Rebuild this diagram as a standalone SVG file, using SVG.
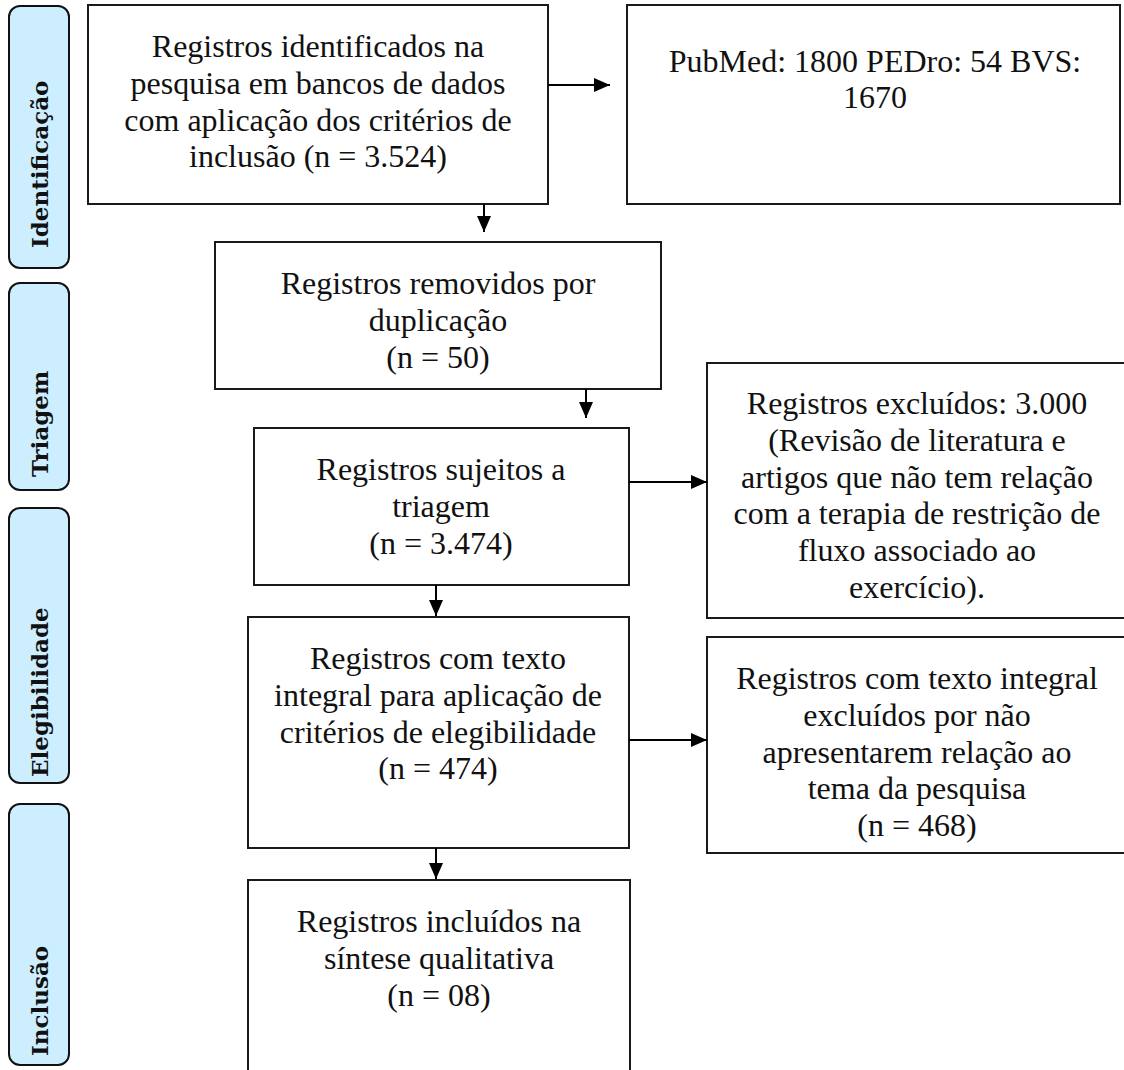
<svg xmlns="http://www.w3.org/2000/svg" width="1124" height="1070" viewBox="0 0 1124 1070">
<style>
.bg{fill:#ffffff}
.box{fill:#ffffff;stroke:#1a1a1a;stroke-width:2}
.lbl{fill:#cdeeff;stroke:#111111;stroke-width:2}
.t{font-family:"Liberation Serif","Times New Roman",serif;font-size:32px;fill:#111111;text-anchor:middle}
.lt{font-family:"DejaVu Serif",serif;font-weight:bold;font-size:23px;fill:#111111}
.c{stroke:#000000;stroke-width:2;fill:none;marker-end:url(#ah)}
</style>
<defs>
<marker id="ah" markerUnits="userSpaceOnUse" markerWidth="16" markerHeight="14" refX="16" refY="7" orient="auto">
<path d="M0,0 L16,7 L0,14 Z" fill="#000000"/>
</marker>
</defs>
<rect class="bg" x="0" y="0" width="1124" height="1070"/>

<g id="label-identificacao">
<rect class="lbl" x="9" y="6" width="60" height="262" rx="11"/>
<text class="lt" transform="translate(48,248) rotate(-90)">Identificação</text>
</g>
<g id="label-triagem">
<rect class="lbl" x="9" y="283" width="60" height="207" rx="11"/>
<text class="lt" transform="translate(48,477) rotate(-90)">Triagem</text>
</g>
<g id="label-elegibilidade">
<rect class="lbl" x="9" y="508" width="60" height="275" rx="11"/>
<text class="lt" transform="translate(48,777) rotate(-90)">Elegibilidade</text>
</g>
<g id="label-inclusao">
<rect class="lbl" x="9" y="804" width="60" height="261" rx="11"/>
<text class="lt" transform="translate(48,1056) rotate(-90)">Inclusão</text>
</g>

<g id="box-identificados">
<rect class="box" x="88" y="5" width="460" height="199"/>
<text class="t" x="318" y="57">Registros identificados na</text>
<text class="t" x="318" y="94">pesquisa em bancos de dados</text>
<text class="t" x="318" y="131">com aplicação dos critérios de</text>
<text class="t" x="318" y="167">inclusão (n = 3.524)</text>
</g>
<g id="box-bases">
<rect class="box" x="627" y="5" width="493" height="199"/>
<text class="t" x="875" y="72">PubMed: 1800 PEDro: 54 BVS:</text>
<text class="t" x="875" y="108">1670</text>
</g>
<g id="box-removidos">
<rect class="box" x="215" y="242" width="446" height="147"/>
<text class="t" x="438" y="294">Registros removidos por</text>
<text class="t" x="438" y="331">duplicação</text>
<text class="t" x="438" y="368">(n = 50)</text>
</g>
<g id="box-triagem">
<rect class="box" x="254" y="428" width="375" height="157"/>
<text class="t" x="441" y="480">Registros sujeitos a</text>
<text class="t" x="441" y="517">triagem</text>
<text class="t" x="441" y="554">(n = 3.474)</text>
</g>
<g id="box-excluidos">
<rect class="box" x="707" y="363" width="430" height="255"/>
<text class="t" x="917" y="414">Registros excluídos: 3.000</text>
<text class="t" x="917" y="451">(Revisão de literatura e</text>
<text class="t" x="917" y="488">artigos que não tem relação</text>
<text class="t" x="917" y="524">com a terapia de restrição de</text>
<text class="t" x="917" y="561">fluxo associado ao</text>
<text class="t" x="917" y="598">exercício).</text>
</g>
<g id="box-elegibilidade">
<rect class="box" x="248" y="617" width="381" height="231"/>
<text class="t" x="438" y="669">Registros com texto</text>
<text class="t" x="438" y="706">integral para aplicação de</text>
<text class="t" x="438" y="743">critérios de elegibilidade</text>
<text class="t" x="438" y="779">(n = 474)</text>
</g>
<g id="box-excluidos-integral">
<rect class="box" x="707" y="637" width="430" height="216"/>
<text class="t" x="917" y="689">Registros com texto integral</text>
<text class="t" x="917" y="726">excluídos por não</text>
<text class="t" x="917" y="763">apresentarem relação ao</text>
<text class="t" x="917" y="799">tema da pesquisa</text>
<text class="t" x="917" y="836">(n = 468)</text>
</g>
<g id="box-incluidos">
<rect class="box" x="248" y="880" width="382" height="200"/>
<text class="t" x="439" y="932">Registros incluídos na</text>
<text class="t" x="439" y="969">síntese qualitativa</text>
<text class="t" x="439" y="1006">(n = 08)</text>
</g>

<g id="connectors">
<line class="c" x1="548" y1="85" x2="610" y2="85"/>
<line class="c" x1="484" y1="204" x2="484" y2="232"/>
<line class="c" x1="586" y1="389" x2="586" y2="418"/>
<line class="c" x1="629" y1="482" x2="707" y2="482"/>
<line class="c" x1="436" y1="585" x2="436" y2="616"/>
<line class="c" x1="629" y1="740" x2="707" y2="740"/>
<line class="c" x1="436" y1="848" x2="436" y2="879"/>
</g>
</svg>
